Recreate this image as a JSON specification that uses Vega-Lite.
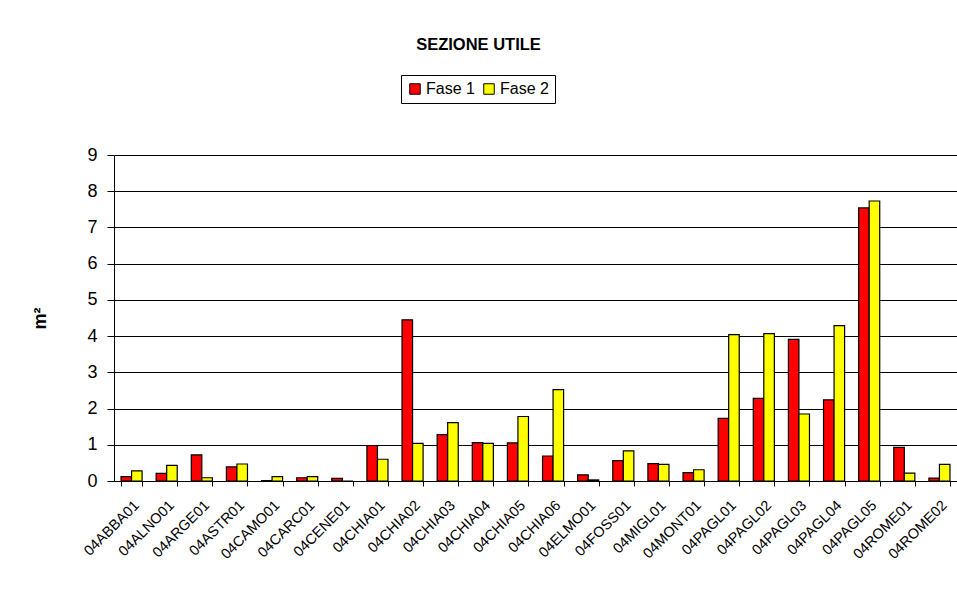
{
  "$schema": "https://vega.github.io/schema/vega-lite/v6.json",
  "autosize": "none",
  "padding": {"left": 114, "top": 155, "right": 0, "bottom": 131},
  "width": 843,
  "height": 326,
  "background": "white",
  "title": {
    "text": "SEZIONE UTILE",
    "anchor": "middle",
    "dx": -57,
    "offset": 21,
    "font": "Liberation Sans, Arial",
    "fontSize": 16.5,
    "fontWeight": "bold",
    "color": "black"
  },
  "data": {
    "values": [
      {"site": "04ABBA01", "fase": "Fase 1", "value": 0.12}, {"site": "04ABBA01", "fase": "Fase 2", "value": 0.28},
      {"site": "04ALNO01", "fase": "Fase 1", "value": 0.21}, {"site": "04ALNO01", "fase": "Fase 2", "value": 0.43},
      {"site": "04ARGE01", "fase": "Fase 1", "value": 0.72}, {"site": "04ARGE01", "fase": "Fase 2", "value": 0.09},
      {"site": "04ASTR01", "fase": "Fase 1", "value": 0.39}, {"site": "04ASTR01", "fase": "Fase 2", "value": 0.47},
      {"site": "04CAMO01", "fase": "Fase 1", "value": 0.01}, {"site": "04CAMO01", "fase": "Fase 2", "value": 0.12},
      {"site": "04CARC01", "fase": "Fase 1", "value": 0.09}, {"site": "04CARC01", "fase": "Fase 2", "value": 0.12},
      {"site": "04CENE01", "fase": "Fase 1", "value": 0.07}, {"site": "04CENE01", "fase": "Fase 2", "value": 0.0},
      {"site": "04CHIA01", "fase": "Fase 1", "value": 0.98}, {"site": "04CHIA01", "fase": "Fase 2", "value": 0.60},
      {"site": "04CHIA02", "fase": "Fase 1", "value": 4.45}, {"site": "04CHIA02", "fase": "Fase 2", "value": 1.04},
      {"site": "04CHIA03", "fase": "Fase 1", "value": 1.28}, {"site": "04CHIA03", "fase": "Fase 2", "value": 1.61},
      {"site": "04CHIA04", "fase": "Fase 1", "value": 1.06}, {"site": "04CHIA04", "fase": "Fase 2", "value": 1.04},
      {"site": "04CHIA05", "fase": "Fase 1", "value": 1.05}, {"site": "04CHIA05", "fase": "Fase 2", "value": 1.78},
      {"site": "04CHIA06", "fase": "Fase 1", "value": 0.69}, {"site": "04CHIA06", "fase": "Fase 2", "value": 2.52},
      {"site": "04ELMO01", "fase": "Fase 1", "value": 0.17}, {"site": "04ELMO01", "fase": "Fase 2", "value": 0.03},
      {"site": "04FOSS01", "fase": "Fase 1", "value": 0.56}, {"site": "04FOSS01", "fase": "Fase 2", "value": 0.83},
      {"site": "04MIGL01", "fase": "Fase 1", "value": 0.48}, {"site": "04MIGL01", "fase": "Fase 2", "value": 0.46},
      {"site": "04MONT01", "fase": "Fase 1", "value": 0.23}, {"site": "04MONT01", "fase": "Fase 2", "value": 0.31},
      {"site": "04PAGL01", "fase": "Fase 1", "value": 1.73}, {"site": "04PAGL01", "fase": "Fase 2", "value": 4.04},
      {"site": "04PAGL02", "fase": "Fase 1", "value": 2.28}, {"site": "04PAGL02", "fase": "Fase 2", "value": 4.07},
      {"site": "04PAGL03", "fase": "Fase 1", "value": 3.91}, {"site": "04PAGL03", "fase": "Fase 2", "value": 1.85},
      {"site": "04PAGL04", "fase": "Fase 1", "value": 2.24}, {"site": "04PAGL04", "fase": "Fase 2", "value": 4.29},
      {"site": "04PAGL05", "fase": "Fase 1", "value": 7.54}, {"site": "04PAGL05", "fase": "Fase 2", "value": 7.73},
      {"site": "04ROME01", "fase": "Fase 1", "value": 0.93}, {"site": "04ROME01", "fase": "Fase 2", "value": 0.22},
      {"site": "04ROME02", "fase": "Fase 1", "value": 0.08}, {"site": "04ROME02", "fase": "Fase 2", "value": 0.46}
    ]
  },
  "mark": {"type": "bar", "stroke": "black", "strokeWidth": 1.2},
  "encoding": {
    "x": {
      "field": "site",
      "type": "nominal",
      "sort": null,
      "scale": {"paddingInner": 0.4, "paddingOuter": 0.2},
      "axis": {
        "title": null,
        "labelAngle": -45,
        "labelFont": "Liberation Sans, Arial",
        "labelFontSize": 14.5,
        "labelColor": "black",
        "labelPadding": 12,
        "labelDx": -18,
        "labelOverlap": false,
        "domainColor": "black",
        "tickColor": "black",
        "tickSize": 5,
        "tickBand": "extent",
        "grid": false
      }
    },
    "xOffset": {"field": "fase", "type": "nominal", "scale": {"paddingInner": 0, "paddingOuter": 0}},
    "y": {
      "field": "value",
      "type": "quantitative",
      "scale": {"domain": [0, 9], "nice": false},
      "axis": {
        "title": "m²",
        "titleFont": "Liberation Sans, Arial",
        "titleFontSize": 18,
        "titleFontWeight": "bold",
        "titleColor": "black",
        "titlePadding": 37,
        "values": [0, 1, 2, 3, 4, 5, 6, 7, 8, 9],
        "labelFont": "Liberation Sans, Arial",
        "labelFontSize": 18,
        "labelColor": "black",
        "labelPadding": 10,
        "tickSize": 7,
        "tickColor": "black",
        "domainColor": "black",
        "gridColor": "black",
        "gridOpacity": 1,
        "gridWidth": 1
      }
    },
    "fill": {
      "field": "fase",
      "type": "nominal",
      "scale": {"domain": ["Fase 1", "Fase 2"], "range": ["#FF0000", "#FFFF00"]},
      "legend": {
        "title": null,
        "orient": "none",
        "direction": "horizontal",
        "legendX": 287,
        "legendY": -80,
        "strokeColor": "black",
        "fillColor": "white",
        "padding": 6,
        "symbolType": "square",
        "symbolSize": 110,
        "symbolStrokeColor": "black",
        "symbolStrokeWidth": 1,
        "symbolOpacity": 1,
        "labelFont": "Liberation Sans, Arial",
        "labelFontSize": 16,
        "labelColor": "black",
        "labelOffset": 3,
        "columnPadding": 6
      }
    }
  },
  "config": {
    "view": {"stroke": null},
    "axis": {"domainWidth": 1, "tickWidth": 1}
  }
}
